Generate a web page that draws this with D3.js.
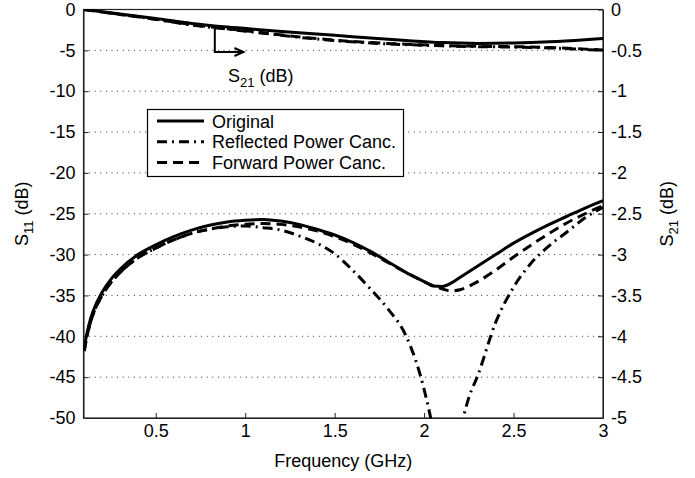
<!DOCTYPE html>
<html>
<head>
<meta charset="utf-8">
<script src="https://cdn.jsdelivr.net/npm/d3@7"></script>
<style>
  body { margin: 0; background: #fff; }
  svg text { font-family: "Liberation Sans", Arial, sans-serif; fill: #000; }
</style>
</head>
<body>
<div id="chart"></div>
<script>
// S11 (left axis, dB)
const freqS11 = [0.1, 0.11, 0.125, 0.15, 0.2, 0.25, 0.3, 0.4, 0.5, 0.6, 0.7, 0.8, 0.9, 1.0, 1.1, 1.2, 1.3, 1.4, 1.5,
  1.6, 1.7, 1.8, 1.9, 2.0, 2.05, 2.1, 2.15, 2.2, 2.3, 2.4, 2.5, 2.6, 2.7, 2.8, 2.9, 3.0];
const origS11 = [-41.5, -40.2, -38.7, -36.9, -34.6, -33.0, -31.8, -30.0, -28.8, -27.8, -27.0, -26.4, -26.0, -25.8, -25.7, -25.9, -26.3, -26.9, -27.6,
  -28.5, -29.6, -30.9, -32.2, -33.3, -33.85, -33.9, -33.5, -32.8, -31.4, -30.0, -28.6, -27.4, -26.3, -25.3, -24.3, -23.4];
const fwdS11 = [-41.8, -40.6, -39.1, -37.3, -35.0, -33.4, -32.2, -30.4, -29.2, -28.2, -27.4, -26.9, -26.5, -26.3, -26.2, -26.3, -26.6, -27.1, -27.8,
  -28.7, -29.8, -31.0, -32.2, -33.3, -33.8, -34.2, -34.45, -34.3, -33.3, -31.9, -30.3, -28.8, -27.4, -26.1, -25.0, -24.0];
const freqRefl = [0.1, 0.11, 0.125, 0.15, 0.2, 0.25, 0.3, 0.4, 0.5, 0.6, 0.7, 0.8, 0.9, 1.0, 1.1, 1.2, 1.3, 1.4, 1.5, 1.6, 1.7, 1.8,
  1.9, 2.0, 2.05, 2.12, 2.2, 2.25, 2.3, 2.4, 2.5, 2.6, 2.7, 2.8, 2.9, 3.0];
const reflS11 = [-41.8, -40.6, -39.1, -37.3, -35.0, -33.4, -32.2, -30.4, -29.2, -28.2, -27.4, -26.9, -26.6, -26.5, -26.7, -27.0, -27.7, -28.6, -29.9, -31.9, -34.2, -36.7,
  -40.0, -46.5, -51.5, -62, -51.8, -47.5, -44.8, -38.3, -34.0, -31.0, -28.9, -27.2, -25.5, -24.2];

// S21 (right axis, dB)
const freqS21 = [0.1, 0.3, 0.5, 0.7, 0.9, 1.1, 1.3, 1.5, 1.7, 1.9, 2.1, 2.3, 2.5, 2.7, 2.9, 3.0];
const origS21 = [0, -0.055, -0.11, -0.17, -0.215, -0.25, -0.285, -0.315, -0.35, -0.38, -0.405, -0.415, -0.41, -0.395, -0.37, -0.355];
const reflS21 = [0, -0.06, -0.12, -0.19, -0.24, -0.29, -0.34, -0.38, -0.41, -0.43, -0.445, -0.455, -0.46, -0.47, -0.49, -0.5];
const fwdS21  = [0, -0.06, -0.12, -0.185, -0.235, -0.285, -0.335, -0.375, -0.405, -0.425, -0.44, -0.45, -0.455, -0.465, -0.485, -0.495];

const xTicks = [0.5, 1, 1.5, 2, 2.5, 3];
const yLeftTicks = [0, -5, -10, -15, -20, -25, -30, -35, -40, -45, -50];
const yRightTicks = [0, -0.5, -1, -1.5, -2, -2.5, -3, -3.5, -4, -4.5, -5];
const legendNames = ['Original', 'Reflected Power Canc.', 'Forward Power Canc.'];

const W = 695, H = 478;
const plot = {left: 83.5, right: 603, top: 9.5, bottom: 418};
const dashes = [null, '10,5,2,5', '10,6'];
const FS = '18px', SUB = '13px';

const svg = d3.select('#chart').append('svg')
  .attr('width', W).attr('height', H);

const x = d3.scaleLinear().domain([0.096, 3]).range([plot.left, plot.right]);
const yL = d3.scaleLinear().domain([-50, 0]).range([plot.bottom, plot.top]);
const yR = d3.scaleLinear().domain([-5, 0]).range([plot.bottom, plot.top]);

svg.append('clipPath').attr('id', 'clip')
  .append('rect')
  .attr('x', plot.left).attr('y', plot.top)
  .attr('width', plot.right - plot.left).attr('height', plot.bottom - plot.top);

// dotted horizontal grid
svg.append('g').selectAll('line')
  .data(yLeftTicks.filter(d => d !== 0 && d !== -50))
  .enter().append('line')
  .attr('x1', plot.left).attr('x2', plot.right)
  .attr('y1', d => yL(d)).attr('y2', d => yL(d))
  .attr('stroke', '#333').attr('stroke-width', 1)
  .attr('stroke-dasharray', '1,4.6');

// axes
const fmt = d => String(d);
const gL = svg.append('g').attr('transform', `translate(${plot.left},0)`)
  .call(d3.axisLeft(yL).tickValues(yLeftTicks).tickFormat(fmt).tickSize(-5).tickSizeOuter(0).tickPadding(8));
const gR = svg.append('g').attr('transform', `translate(${plot.right},0)`)
  .call(d3.axisRight(yR).tickValues(yRightTicks).tickFormat(fmt).tickSize(-5).tickSizeOuter(0).tickPadding(8));
const gB = svg.append('g').attr('transform', `translate(0,${plot.bottom})`)
  .call(d3.axisBottom(x).tickValues(xTicks).tickFormat(fmt).tickSize(-5).tickSizeOuter(0).tickPadding(6));
[gL, gR, gB].forEach(g => {
  g.selectAll('text').style('font-size', FS).attr('font-family', null);
  g.selectAll('line, path').attr('stroke', '#222');
});

svg.append('rect')
  .attr('x', plot.left).attr('y', plot.top)
  .attr('width', plot.right - plot.left).attr('height', plot.bottom - plot.top)
  .attr('fill', 'none').attr('stroke', '#222').attr('stroke-width', 1.2);

// curves
const lineL = (fs) => d3.line().curve(d3.curveMonotoneX).x((d, i) => x(fs[i])).y(d => yL(d));
const lineR = d3.line().curve(d3.curveMonotoneX).x((d, i) => x(freqS21[i])).y(d => yR(d));
const curves = svg.append('g').attr('clip-path', 'url(#clip)');
const s11 = [[freqS11, origS11], [freqRefl, reflS11], [freqS11, fwdS11]];
s11.forEach(([fs, vs], i) => {
  curves.append('path').attr('d', lineL(fs)(vs))
    .attr('fill', 'none').attr('stroke', '#000').attr('stroke-width', 3)
    .attr('stroke-dasharray', dashes[i]);
});
[origS21, reflS21, fwdS21].forEach((vs, i) => {
  curves.append('path').attr('d', lineR(vs))
    .attr('fill', 'none').attr('stroke', '#000').attr('stroke-width', 3)
    .attr('stroke-dasharray', dashes[i]);
});

// S21 annotation arrow
const ax = x(0.83), ay0 = yR(-0.19), ay1 = yL(-5.2), axEnd = x(0.99);
svg.append('path')
  .attr('d', `M${ax},${ay0}V${ay1}H${axEnd}`)
  .attr('fill', 'none').attr('stroke', '#000').attr('stroke-width', 2);
svg.append('path')
  .attr('d', `M${axEnd - 9},${ay1 - 4}L${axEnd},${ay1}L${axEnd - 9},${ay1 + 4}`)
  .attr('fill', 'none').attr('stroke', '#000').attr('stroke-width', 2);
const ann = svg.append('text').attr('x', 228).attr('y', 82).style('font-size', FS);
ann.append('tspan').text('S');
ann.append('tspan').attr('dy', 5).style('font-size', SUB).text('21');
ann.append('tspan').attr('dy', -5).text(' (dB)');

// legend
const lg = svg.append('g');
lg.append('rect').attr('x', 147.5).attr('y', 109.5).attr('width', 256).attr('height', 67)
  .attr('fill', '#fff').attr('stroke', '#000').attr('stroke-width', 1.2);
legendNames.forEach((name, i) => {
  const cy = 121 + i * 20.8;
  lg.append('line').attr('x1', 157).attr('x2', 204).attr('y1', cy).attr('y2', cy)
    .attr('stroke', '#000').attr('stroke-width', 3).attr('stroke-dasharray', dashes[i]);
  lg.append('text').attr('x', 212).attr('y', cy + 6.5).style('font-size', FS).text(name);
});

// axis titles
svg.append('text').attr('x', (plot.left + plot.right) / 2).attr('y', 467)
  .attr('text-anchor', 'middle').style('font-size', FS).text('Frequency (GHz)');
const tL = svg.append('text').attr('transform', `translate(28,${(plot.top + plot.bottom) / 2}) rotate(-90)`)
  .attr('text-anchor', 'middle').style('font-size', FS);
tL.append('tspan').text('S');
tL.append('tspan').attr('dy', 5).style('font-size', SUB).text('11');
tL.append('tspan').attr('dy', -5).text(' (dB)');
const tR = svg.append('text').attr('transform', `translate(673,${(plot.top + plot.bottom) / 2}) rotate(-90)`)
  .attr('text-anchor', 'middle').style('font-size', FS);
tR.append('tspan').text('S');
tR.append('tspan').attr('dy', 5).style('font-size', SUB).text('21');
tR.append('tspan').attr('dy', -5).text(' (dB)');
</script>
</body>
</html>
